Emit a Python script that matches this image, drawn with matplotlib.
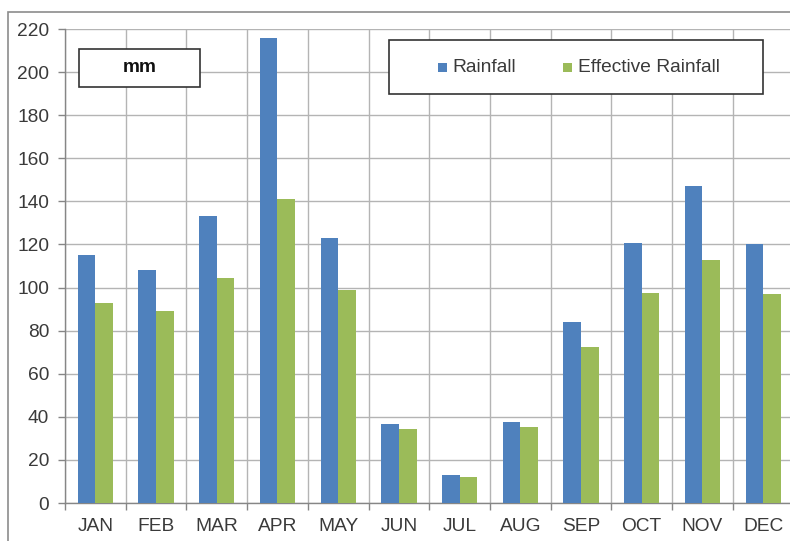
import matplotlib
matplotlib.use("Agg")
import matplotlib.pyplot as plt
from matplotlib.patches import Rectangle
import numpy as np

months = ["JAN", "FEB", "MAR", "APR", "MAY", "JUN", "JUL", "AUG", "SEP", "OCT", "NOV", "DEC"]
rainfall = [115, 108, 133, 216, 123, 36.5, 13, 37.5, 84, 120.5, 147, 120]
effective_rainfall = [93, 89, 104.5, 141, 99, 34.5, 12, 35.5, 72.5, 97.5, 113, 97]
y_ticks = list(range(0, 221, 20))

BLUE = "#4F81BD"
GREEN = "#9BBB59"
GRID = "#B4B4B4"
AXIS = "#868686"
TEXT = "#3A3A3A"
FS = 13.8

plt.rcParams["font.family"] = ["Liberation Sans", "DejaVu Sans"]

W, H = 790, 541
fig = plt.figure(figsize=(W / 100, H / 100), dpi=100)

# outer chart frame (continues past the right and bottom edges)
fig.patches.append(Rectangle((8 / W, -0.05), 1.2, 1 - 12 / H + 0.05,
                             transform=fig.transFigure, fill=False,
                             edgecolor="#8C8C8C", linewidth=1.2))

left, right, bottom, top = 65, 793.5, 503, 29
ax = fig.add_axes([left / W, 1 - bottom / H, (right - left) / W, (bottom - top) / H])

x = np.arange(len(months))
bw = 0.29
ax.bar(x - bw / 2, rainfall, bw, color=BLUE, label="Rainfall", zorder=3)
ax.bar(x + bw / 2, effective_rainfall, bw, color=GREEN, label="Effective Rainfall", zorder=3)

ax.set_xlim(-0.5, len(months) - 0.5)
ax.set_ylim(0, 220)
ax.set_yticks(y_ticks)

# boundaries carry the tick marks and vertical grid; labels sit at centres
ax.set_xticks(np.arange(len(months) + 1) - 0.5)
ax.set_xticklabels([])
ax.set_xticks(x, minor=True)
ax.set_xticklabels(months, minor=True)
ax.tick_params(axis="x", which="major", length=5, width=1, color=AXIS)
ax.tick_params(axis="x", which="minor", length=0, pad=10.5, labelsize=FS, labelcolor=TEXT)
ax.tick_params(axis="y", length=5, width=1, color=AXIS, pad=6.5, labelsize=FS, labelcolor=TEXT)

ax.grid(True, which="major", color=GRID, linewidth=1, zorder=0)
ax.set_axisbelow(True)

for side in ("top", "right"):
    ax.spines[side].set_visible(False)
for side in ("left", "bottom"):
    ax.spines[side].set_color(AXIS)
    ax.spines[side].set_linewidth(1)

# unit box
fig.patches.append(Rectangle((79 / W, 1 - 87 / H), 121 / W, 38 / H,
                             transform=fig.transFigure, facecolor="white",
                             edgecolor="#333333", linewidth=1.2, zorder=5))
fig.text(139.5 / W, 1 - 68 / H, "mm", ha="center", va="center",
         fontsize=FS, fontweight="bold", color="#111111", zorder=6)

# legend box
fig.patches.append(Rectangle((389 / W, 1 - 94 / H), 374 / W, 54 / H,
                             transform=fig.transFigure, facecolor="white",
                             edgecolor="#333333", linewidth=1.2, zorder=5))
for sx, tx, col, lab in [(438, 452, BLUE, "Rainfall"), (563, 578, GREEN, "Effective Rainfall")]:
    fig.patches.append(Rectangle((sx / W, 1 - 72 / H), 9 / W, 9 / H,
                                 transform=fig.transFigure, facecolor=col,
                                 edgecolor="none", zorder=6))
    fig.text(tx / W, 1 - 67 / H, lab, ha="left", va="center",
             fontsize=FS, color=TEXT, zorder=6)

fig.savefig("out.png", dpi=100)
